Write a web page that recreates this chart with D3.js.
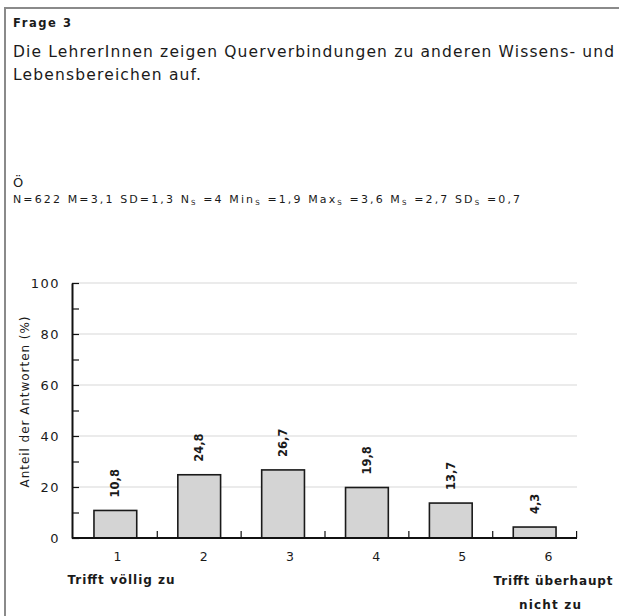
<!DOCTYPE html>
<meta charset="utf-8">
<script src="https://d3js.org/d3.v7.min.js"></script>
<style>
  body { margin: 0; background: #fff; }
  svg text { font-family: "DejaVu Sans", "Liberation Sans", Arial, sans-serif; fill: #1a1a1a; }
</style>
<div id="chart"></div>
<script>
// Daten
var categories = ["1", "2", "3", "4", "5", "6"];
var values = [10.8, 24.8, 26.7, 19.8, 13.7, 4.3];
var valueLabels = ["10,8", "24,8", "26,7", "19,8", "13,7", "4,3"];
var yTicks = [0, 20, 40, 60, 80, 100];
var yMinorTicks = [0, 10, 20, 30, 40, 50, 60, 70, 80, 90, 100];
var leftEndLabel = ["Trifft völlig zu"];
var rightEndLabel = ["Trifft überhaupt", "nicht zu"];

var W = 619, H = 616;
var svg = d3.select("#chart").append("svg")
    .attr("width", W)
    .attr("height", H);

// Rahmen
svg.append("rect")
    .attr("x", 5).attr("y", 8)
    .attr("width", 630).attr("height", 630)
    .attr("fill", "none")
    .attr("stroke", "#8a8a8a")
    .attr("stroke-width", 2);

// Kopftext
svg.append("text")
    .attr("x", 13).attr("y", 27)
    .attr("font-size", 11.5).attr("font-weight", "bold")
    .attr("textLength", 58).attr("lengthAdjust", "spacing")
    .text("Frage 3");

svg.append("text")
    .attr("x", 13).attr("y", 57)
    .attr("font-size", 15.5)
    .attr("textLength", 601).attr("lengthAdjust", "spacing")
    .text("Die LehrerInnen zeigen Querverbindungen zu anderen Wissens- und");

svg.append("text")
    .attr("x", 13).attr("y", 80)
    .attr("font-size", 15.5)
    .attr("textLength", 188).attr("lengthAdjust", "spacing")
    .text("Lebensbereichen auf.");

svg.append("text")
    .attr("x", 13).attr("y", 187)
    .attr("font-size", 13)
    .text("Ö");

// Kennwerte
var stats = ["N=622 M=3,1 SD=1,3 N", "S", " =4 Min", "S", " =1,9 Max", "S", " =3,6 M", "S", " =2,7  SD", "S", " =0,7"];
var st = svg.append("text")
    .attr("x", 13).attr("y", 203)
    .attr("font-size", 11)
    .attr("textLength", 507).attr("lengthAdjust", "spacing");
stats.forEach(function(s, i) {
  var t = st.append("tspan").text(s);
  if (i % 2 === 1) t.attr("font-size", 7).attr("dy", 2);
  else if (i > 0) t.attr("dy", -2);
});

// Skalen
var y = d3.scaleLinear().domain([0, 100]).range([538, 283]);
var x = d3.scaleBand().domain(categories).range([73, 577])
    .paddingInner(0.49).paddingOuter(0.25);
var xLab = d3.scalePoint().domain(categories).range([117, 548]);

// Gitterlinien
svg.append("g").selectAll("line")
    .data(yTicks.filter(function(d) { return d > 0; }))
    .enter().append("line")
    .attr("x1", 72).attr("x2", 577)
    .attr("y1", function(d) { return y(d); })
    .attr("y2", function(d) { return y(d); })
    .attr("stroke", "#e4e4e4")
    .attr("stroke-width", 1.5);

// Balken
svg.append("g").selectAll("rect")
    .data(values)
    .enter().append("rect")
    .attr("x", function(d, i) { return x(categories[i]); })
    .attr("y", function(d) { return y(d); })
    .attr("width", x.bandwidth())
    .attr("height", function(d) { return y(0) - y(d); })
    .attr("fill", "#d4d4d4")
    .attr("stroke", "#1a1a1a")
    .attr("stroke-width", 1.6);

// Werte über den Balken
svg.append("g").selectAll("text")
    .data(values)
    .enter().append("text")
    .attr("transform", function(d, i) {
      return "translate(" + (x(categories[i]) + x.bandwidth() / 2) + "," + (y(d) - 13) + ") rotate(-90)";
    })
    .attr("dominant-baseline", "central")
    .attr("font-size", 11.5)
    .attr("font-weight", "bold")
    .text(function(d, i) { return valueLabels[i]; });

// y-Achse
var yAxis = svg.append("g")
    .attr("transform", "translate(72,0)")
    .call(d3.axisLeft(y)
      .tickValues(yMinorTicks)
      .tickSizeInner(-7)
      .tickSizeOuter(0)
      .tickPadding(12)
      .tickFormat(function(d) { return d % 20 === 0 ? d : ""; }));
yAxis.select(".domain").attr("stroke", "#111").attr("stroke-width", 2);
yAxis.selectAll(".tick line").attr("stroke", "#111").attr("stroke-width", 1.2);
yAxis.selectAll(".tick text")
    .attr("font-size", 13)
    .attr("letter-spacing", 1.5)
    .attr("fill", "#333");

// x-Achse
svg.append("line")
    .attr("x1", 72).attr("x2", 577)
    .attr("y1", y(0)).attr("y2", y(0))
    .attr("stroke", "#111").attr("stroke-width", 2);

svg.append("g").selectAll("line")
    .data(categories)
    .enter().append("line")
    .attr("x1", function(d) { return x(d) + x.bandwidth() + x.step() * x.paddingInner() / 2; })
    .attr("x2", function(d) { return x(d) + x.bandwidth() + x.step() * x.paddingInner() / 2; })
    .attr("y1", y(0)).attr("y2", y(0) - 7)
    .attr("stroke", "#111").attr("stroke-width", 1.2);

var xAxis = svg.append("g")
    .attr("transform", "translate(0," + (y(0) + 14) + ")")
    .call(d3.axisBottom(xLab).tickSize(0).tickPadding(0));
xAxis.select(".domain").remove();
xAxis.selectAll(".tick text")
    .attr("font-size", 12.5)
    .attr("fill", "#333");

svg.append("text")
    .attr("x", 121).attr("y", 584)
    .attr("text-anchor", "middle")
    .attr("font-size", 12)
    .attr("font-weight", 600)
    .attr("textLength", 107).attr("lengthAdjust", "spacing")
    .text(leftEndLabel[0]);

svg.append("g").selectAll("text")
    .data(rightEndLabel)
    .enter().append("text")
    .attr("x", function(d, i) { return i === 0 ? 553 : 550; })
    .attr("y", function(d, i) { return 585 + i * 24; })
    .attr("text-anchor", "middle")
    .attr("font-size", 12)
    .attr("font-weight", 600)
    .attr("textLength", function(d, i) { return i === 0 ? 119 : 62; })
    .attr("lengthAdjust", "spacing")
    .text(function(d) { return d; });

// y-Achsentitel
svg.append("text")
    .attr("transform", "translate(25,402) rotate(-90)")
    .attr("text-anchor", "middle")
    .attr("dominant-baseline", "central")
    .attr("font-size", 12)
    .attr("textLength", 171).attr("lengthAdjust", "spacing")
    .text("Anteil der Antworten (%)");
</script>
